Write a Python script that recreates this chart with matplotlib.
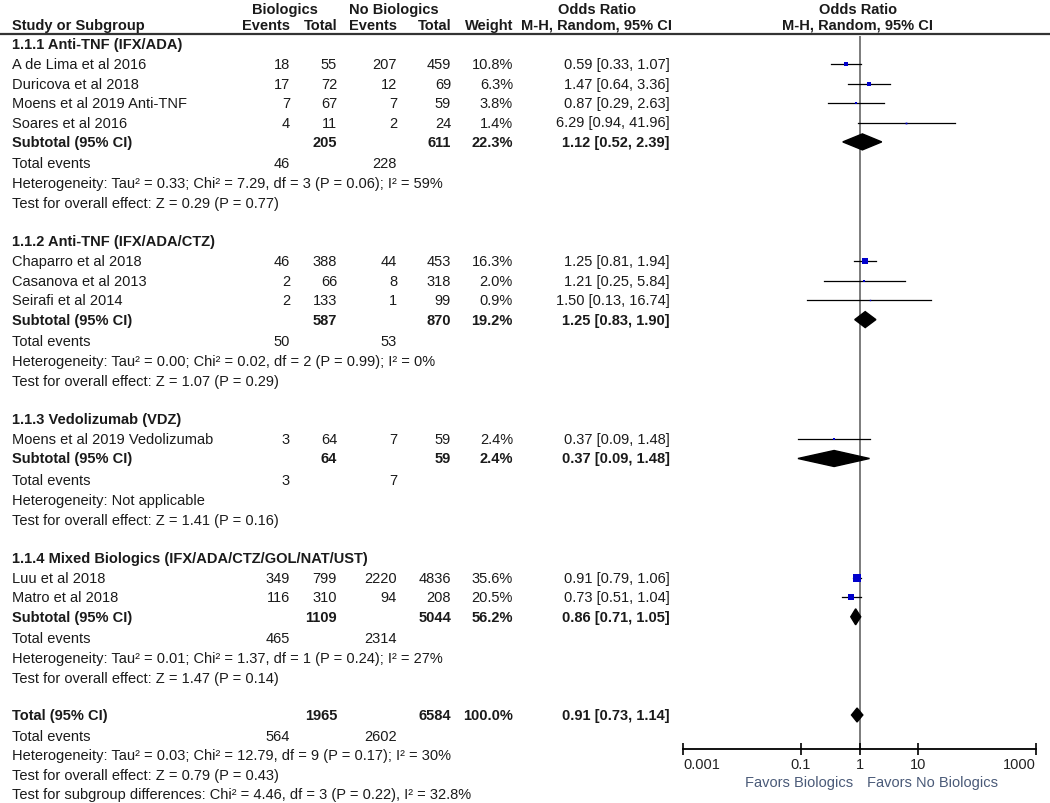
import numpy as np
import matplotlib
matplotlib.use("Agg")
import matplotlib.pyplot as plt
from matplotlib.patches import Polygon

plt.rcParams['font.family'] = ['Liberation Sans Narrow', 'Liberation Sans', 'DejaVu Sans']

# ---- data ----
group_names = ["1.1.1 Anti-TNF (IFX/ADA)", "1.1.2 Anti-TNF (IFX/ADA/CTZ)",
               "1.1.3 Vedolizumab (VDZ)", "1.1.4 Mixed Biologics (IFX/ADA/CTZ/GOL/NAT/UST)"]
study_group = [0, 0, 0, 0, 1, 1, 1, 2, 3, 3]
studies = ["A de Lima et al 2016", "Duricova et al 2018", "Moens et al 2019 Anti-TNF",
           "Soares et al 2016", "Chaparro et al 2018", "Casanova et al 2013",
           "Seirafi et al 2014", "Moens et al 2019 Vedolizumab", "Luu et al 2018",
           "Matro et al 2018"]
bio_events = [18, 17, 7, 4, 46, 2, 2, 3, 349, 116]
bio_total = [55, 72, 67, 11, 388, 66, 133, 64, 799, 310]
nobio_events = [207, 12, 7, 2, 44, 8, 1, 7, 2220, 94]
nobio_total = [459, 69, 59, 24, 453, 318, 99, 59, 4836, 208]
weights = [10.8, 6.3, 3.8, 1.4, 16.3, 2.0, 0.9, 2.4, 35.6, 20.5]
odds = [0.59, 1.47, 0.87, 6.29, 1.25, 1.21, 1.50, 0.37, 0.91, 0.73]
ci_lo = [0.33, 0.64, 0.29, 0.94, 0.81, 0.25, 0.13, 0.09, 0.79, 0.51]
ci_hi = [1.07, 3.36, 2.63, 41.96, 1.94, 5.84, 16.74, 1.48, 1.06, 1.04]

sub_bio_total = [205, 587, 64, 1109]
sub_nobio_total = [611, 870, 59, 5044]
sub_weight = [22.3, 19.2, 2.4, 56.2]
sub_or = [1.12, 1.25, 0.37, 0.86]
sub_lo = [0.52, 0.83, 0.09, 0.71]
sub_hi = [2.39, 1.90, 1.48, 1.05]
sub_bio_events = [46, 50, 3, 465]
sub_nobio_events = [228, 53, 7, 2314]
sub_het = ["Heterogeneity: Tau² = 0.33; Chi² = 7.29, df = 3 (P = 0.06); I² = 59%",
           "Heterogeneity: Tau² = 0.00; Chi² = 0.02, df = 2 (P = 0.99); I² = 0%",
           "Heterogeneity: Not applicable",
           "Heterogeneity: Tau² = 0.01; Chi² = 1.37, df = 1 (P = 0.24); I² = 27%"]
sub_test = ["Test for overall effect: Z = 0.29 (P = 0.77)",
            "Test for overall effect: Z = 1.07 (P = 0.29)",
            "Test for overall effect: Z = 1.41 (P = 0.16)",
            "Test for overall effect: Z = 1.47 (P = 0.14)"]

tot_bio_total, tot_nobio_total, tot_weight = 1965, 6584, 100.0
tot_or, tot_lo, tot_hi = 0.91, 0.73, 1.14
tot_bio_events, tot_nobio_events = 564, 2602
tot_het = "Heterogeneity: Tau² = 0.03; Chi² = 12.79, df = 9 (P = 0.17); I² = 30%"
tot_test = "Test for overall effect: Z = 0.79 (P = 0.43)"
tot_subdiff = "Test for subgroup differences: Chi² = 4.46, df = 3 (P = 0.22), I² = 32.8%"

axis_ticks = [0.001, 0.1, 1, 10, 1000]
axis_labels = ["0.001", "0.1", "1", "10", "1000"]

# ---- layout (pixels) ----
W, H = 1050, 804
x_name = 12
x_ev1, x_tot1, x_ev2, x_tot2, x_w, x_ci = 290, 337, 397, 451, 513, 670
fs = 10.5
txt = '#1a1a1a'
STEP = 19.4

fig = plt.figure(figsize=(W / 100, H / 100), dpi=100)
tx = fig.add_axes([0, 0, 1, 1])
tx.set_xlim(0, W)
tx.set_ylim(H, 0)
tx.axis('off')

plot_top, plot_bot = 37, 750
fx = fig.add_axes([683 / W, (H - plot_bot) / H, (1036 - 683) / W, (plot_bot - plot_top) / H])
fx.set_xscale('log')
fx.set_xlim(0.001, 1000)
fx.set_ylim(plot_bot, plot_top)
fx.patch.set_alpha(0)
for s in ['top', 'left', 'right']:
    fx.spines[s].set_visible(False)
fx.spines['bottom'].set_linewidth(1.3)
fx.set_yticks([])
fx.set_xticks(axis_ticks)
fx.set_xticklabels(axis_labels, fontsize=10.5, color='#222222')
fx.minorticks_off()
fx.tick_params(axis='x', direction='inout', length=8, width=1.2, pad=2)
lbls = fx.get_xticklabels()
lbls[0].set_ha('left')
lbls[-1].set_ha('right')
fx.axvline(1, color='#666666', lw=1.2, zorder=1)


def put(x, y, s, ha='right', bold=False, **kw):
    tx.text(x, y, s, ha=ha, va='center', fontsize=fs, color=txt,
            fontweight='bold' if bold else 'normal', **kw)


def diamond(y, o, lo, hi, h=7.5):
    fx.add_patch(Polygon([(lo, y), (o, y - h), (hi, y), (o, y + h)],
                         closed=True, facecolor='black', edgecolor='black', zorder=3))


# headers
put(285, 10, "Biologics", ha='center', bold=True)
put(394, 10, "No Biologics", ha='center', bold=True)
put(597, 10, "Odds Ratio", ha='center', bold=True)
put(858, 10, "Odds Ratio", ha='center', bold=True)
put(x_name, 26, "Study or Subgroup", ha='left', bold=True)
for xx, s in [(x_ev1, "Events"), (x_tot1, "Total"), (x_ev2, "Events"),
              (x_tot2, "Total"), (x_w, "Weight"), (672, "M-H, Random, 95% CI")]:
    put(xx, 26, s, bold=True)
put(858, 26, "M-H, Random, 95% CI", ha='center', bold=True)
tx.plot([0, W], [35, 35], color='#333333', lw=1.6)

y = 45
for g, gname in enumerate(group_names):
    put(x_name, y, gname, ha='left', bold=True)
    y += 20.3
    for i in [k for k, sg in enumerate(study_group) if sg == g]:
        put(x_name, y, studies[i], ha='left')
        put(x_ev1, y, str(bio_events[i]))
        put(x_tot1, y, str(bio_total[i]))
        put(x_ev2, y, str(nobio_events[i]))
        put(x_tot2, y, str(nobio_total[i]))
        put(x_w, y, f"{weights[i]:.1f}%")
        put(x_ci, y, f"{odds[i]:.2f} [{ci_lo[i]:.2f}, {ci_hi[i]:.2f}]")
        fx.plot([ci_lo[i], ci_hi[i]], [y, y], color='black', lw=0.9, zorder=2)
        side = 1.5 * np.sqrt(weights[i]) * 0.72
        fx.plot([odds[i]], [y], marker='s', ms=side, color='#0000cc', mew=0, zorder=4)
        y += STEP
    put(x_name, y, "Subtotal (95% CI)", ha='left', bold=True)
    put(x_tot1, y, str(sub_bio_total[g]), bold=True)
    put(x_tot2, y, str(sub_nobio_total[g]), bold=True)
    put(x_w, y, f"{sub_weight[g]:.1f}%", bold=True)
    put(x_ci, y, f"{sub_or[g]:.2f} [{sub_lo[g]:.2f}, {sub_hi[g]:.2f}]", bold=True)
    diamond(y, sub_or[g], sub_lo[g], sub_hi[g], h=8)
    y += 21.6
    put(x_name, y, "Total events", ha='left')
    put(x_ev1, y, str(sub_bio_events[g]))
    put(x_ev2, y, str(sub_nobio_events[g]))
    y += 19.8
    put(x_name, y, sub_het[g], ha='left')
    y += 19.8
    put(x_name, y, sub_test[g], ha='left')
    y += 38

y = y - 38 + 37
put(x_name, y, "Total (95% CI)", ha='left', bold=True)
put(x_tot1, y, str(tot_bio_total), bold=True)
put(x_tot2, y, str(tot_nobio_total), bold=True)
put(x_w, y, f"{tot_weight:.1f}%", bold=True)
put(x_ci, y, f"{tot_or:.2f} [{tot_lo:.2f}, {tot_hi:.2f}]", bold=True)
diamond(y, tot_or, tot_lo, tot_hi, h=7)
y += 21
put(x_name, y, "Total events", ha='left')
put(x_ev1, y, str(tot_bio_events))
put(x_ev2, y, str(tot_nobio_events))
y += 19.5
put(x_name, y, tot_het, ha='left')
y += 19.5
put(x_name, y, tot_test, ha='left')
y += 19
put(x_name, y, tot_subdiff, ha='left')

fav = '#4a5a78'
tx.text(853, 783, "Favors Biologics", ha='right', va='center', fontsize=fs, color=fav)
tx.text(867, 783, "Favors No Biologics", ha='left', va='center', fontsize=fs, color=fav)

fig.savefig("out.png", dpi=100)
